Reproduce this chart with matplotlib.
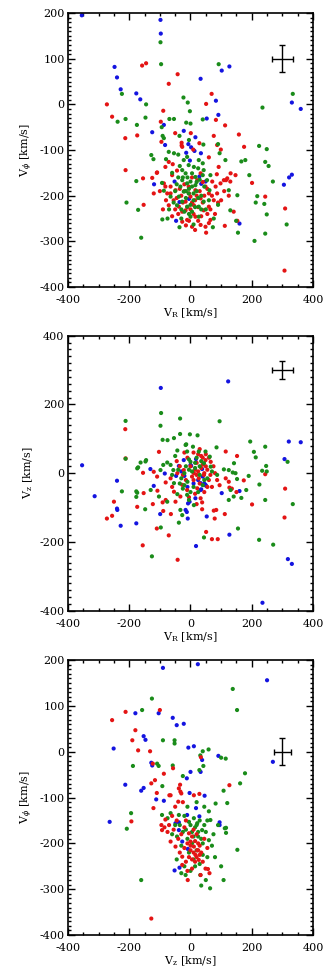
import numpy as np
import matplotlib
matplotlib.use("Agg")
import matplotlib.pyplot as plt
from matplotlib.ticker import MultipleLocator

plt.rcParams['font.family'] = 'DejaVu Serif'
plt.rcParams['mathtext.fontset'] = 'dejavuserif'
plt.rcParams['axes.unicode_minus'] = False

# panel 1: V_R vs V_phi
p1_blue = [(-355, 195), (-98, 185), (-97, 155), (-248, 82), (-240, 59), (-228, 33), (-177, 24), (-164, 11),
           (102, 74), (127, 83), (33, 56), (83, 8), (91, -23), (53, -31), (-87, -45), (-125, -61), (-83, -89),
           (-22, -58), (16, -72), (-7, -87), (2, -94), (-14, -106), (13, -102), (34, -107), (-2, -123),
           (331, 4), (360, -10), (305, -176), (322, -160), (331, -154), (160, -261), (-47, -255), (-119, -175),
           (-36, -214), (-5, -207), (35, -174), (49, -169), (-52, -169), (29, -158)]
p1_red = [(-273, 0), (-256, -27), (-213, -74), (-212, -144), (-158, 85), (-145, 90), (-42, 66), (-71, 45),
          (-89, -14), (-97, -38), (-174, -68), (69, 23), (51, 1), (83, -34), (113, -46), (158, -66), (175, -93),
          (76, -69), (99, -99), (201, -172), (244, -202), (309, -228), (307, -364), (112, -266), (51, -281),
          (153, -255), (-153, -220), (-155, -162), (-120, -195), (-110, -150), (-29, -90), (29, -85), (-50, -63),
          (1, -63), (87, -89), (131, -151), (116, -166), (86, -153),
          (-95, -82), (-29, -84), (-27, -93), (9, -99), (60, -116), (-71, -126), (-58, -131), (-109, -149),
          (-125, -161), (-82, -137), (-44, -145), (-60, -155), (-87, -173), (-82, -180), (-76, -195), (-55, -210),
          (-71, -221), (-38, -224), (-27, -235), (-11, -253), (-27, -257), (16, -246), (33, -264), (65, -253),
          (43, -232), (60, -224), (76, -210), (87, -195), (82, -180), (98, -173), (109, -166), (120, -162),
          (130, -169), (71, -169), (92, -137), (16, -188), (33, -206), (0, -202), (11, -221), (-16, -213),
          (22, -166), (49, -180), (60, -195), (33, -151), (-6, -180), (-49, -188), (-16, -232), (5, -268),
          (49, -268), (141, -235), (147, -155),
          (-5, -195), (20, -200), (40, -215), (-30, -200), (-40, -240), (10, -240), (25, -225), (55, -240),
          (-20, -175), (5, -160), (-65, -180), (70, -200), (-10, -225), (30, -190), (-45, -205), (100, -210),
          (-100, -190), (-90, -230), (60, -260), (80, -240), (-60, -245), (15, -275), (35, -245), (-5, -255),
          (110, -190), (125, -200),
          (-35, -185), (-50, -230), (0, -230), (45, -200), (15, -210), (-20, -190), (65, -230), (-65, -195),
          (25, -255), (-15, -265), (90, -215), (40, -170), (-80, -210), (55, -185), (-25, -215), (5, -215)]
p1_green = [(-98, 136), (-96, 88), (92, 88), (-224, 23), (334, 23), (235, -7), (-23, 15), (-9, 4), (-2, -15),
            (-145, 0), (-147, -29), (-212, -32), (-238, -38), (-175, -45), (-69, -32), (-54, -32), (-94, -50),
            (-91, -69), (-87, -74), (-14, -40), (0, -42), (40, -33), (-36, -69), (-5, -78), (42, -88), (90, -87),
            (95, -107), (166, -125), (179, -122), (224, -91), (249, -98), (244, -126), (255, -135), (269, -169),
            (192, -155), (218, -201), (241, -218), (213, -215), (153, -199), (155, -281), (209, -299), (244, -283),
            (249, -241), (314, -263), (-128, -111), (-121, -120), (-209, -215), (-171, -231), (-161, -292),
            (-177, -168), (-92, -252), (-75, -250), (-36, -269), (10, -263), (73, -269),
            (-71, -104), (-54, -107), (-40, -110), (-22, -122), (-11, -115), (-6, -133), (11, -137), (27, -122),
            (40, -129), (43, -144), (-27, -144), (-16, -151), (5, -151), (16, -159), (-27, -166), (-11, -173),
            (0, -169), (16, -177), (-33, -180), (-22, -191), (-6, -195), (-38, -202), (-27, -213), (-11, -224),
            (5, -235), (27, -224), (43, -213), (-44, -221), (0, -246), (27, -246), (76, -250), (62, -188),
            (54, -166), (65, -155), (-93, -172), (-87, -189), (-65, -202), (114, -122), (125, -188), (130, -232),
            (149, -255),
            (-15, -205), (10, -210), (-5, -185), (20, -190), (35, -200), (-50, -190), (-20, -235), (15, -225),
            (50, -230), (-30, -250), (45, -180), (-60, -150), (5, -180), (-40, -160), (30, -165), (-10, -160),
            (25, -140), (60, -210), (-70, -230), (90, -220), (-80, -120),
            (-30, -230), (-15, -190), (0, -220), (20, -170), (-45, -175), (35, -230), (-55, -215), (10, -195),
            (-25, -160), (40, -155), (-5, -240), (-35, -135), (25, -205)]

# panel 2: V_R vs V_z
p2_blue = [(-354, 23), (-313, -67), (-240, -22), (-240, -103), (-239, -107), (-228, -153), (-177, -146),
           (-97, 248), (123, 267), (-131, 12), (-120, -37), (-99, -119), (-9, -132), (-12, -113), (18, -212),
           (53, -126), (127, -179), (160, -52), (102, -58), (307, 41), (321, 92), (360, 90), (318, -250),
           (331, -264), (235, -377), (-38, 21), (-20, -8), (2, 21), (18, 41), (38, 12), (40, -10), (51, -37),
           (35, -47), (-3, -83), (-47, -8), (-84, -1), (-10, -40), (25, -20), (-30, 5), (10, -30), (45, -30),
           (-8, -88), (-22, 38), (0, 24), (33, -29), (49, -34), (33, -49), (16, -73), (-16, -107)]
p2_red = [(-273, -132), (-256, -124), (-250, -83), (-213, 128), (-212, 43), (-174, -98), (-156, -210),
          (-153, -58), (-123, -90), (-108, -51), (-110, -161), (-91, -85), (-89, -110), (-103, 62), (-71, -181),
          (-42, -252), (-64, -119), (38, -85), (51, -171), (70, -192), (89, -192), (79, -132), (84, -107),
          (112, -119), (115, 63), (152, 50), (174, -21), (201, -91), (244, -3), (309, -45), (307, -129),
          (127, -42),
          (-155, 1), (-120, 4), (-109, -10), (-81, -27), (-65, -15), (-43, 0), (-22, 9), (11, 0), (27, -15),
          (44, -5), (66, 33), (49, 38), (87, -20), (115, -15), (125, -25), (-27, -34), (-11, -49), (22, -44),
          (-54, -54), (-33, -68), (-81, -78), (-49, -83), (33, -73), (38, -105), (76, -109),
          (0, 20), (20, 30), (35, 50), (10, 60), (30, 70), (-10, 45), (40, 25), (55, 10), (60, -20), (70, -40),
          (5, -10), (-15, -20), (15, -60), (-5, -70), (25, 5), (45, -55), (-35, 20), (-60, -40), (80, 0),
          (95, -35), (-20, 60), (50, 55), (60, 45), (-45, 35), (20, -90), (135, -45), (150, -55),
          (15, 10), (30, -30), (50, 20), (65, -5), (40, 45), (25, 55), (10, -20), (-25, -5), (55, -40),
          (75, 20), (20, -5), (45, 0), (35, 15)]
p2_green = [(-212, 152), (-212, 42), (-224, -53), (-177, -53), (-177, -69), (-171, 17), (-145, 38),
            (-148, -105), (-126, -242), (-96, 175), (-98, 138), (-97, -158), (-91, 97), (-75, 96), (-54, 102),
            (-34, 159), (-34, 114), (-2, 113), (23, 110), (-14, 84), (95, 151), (85, 75), (44, -187), (-38, -144),
            (-27, -122), (141, -68), (155, -161), (166, -72), (182, -49), (190, -8), (195, 92), (207, 62),
            (213, 46), (225, -33), (244, 77), (247, 21), (249, 5), (234, 7), (244, -78), (224, -194), (270, -208),
            (317, 33), (334, -90), (138, 2), (152, -17),
            (8, 77), (-163, 31), (-147, 34), (-174, 14), (-98, 9), (-89, 24), (-76, 31), (-65, 24), (-56, 9),
            (-11, 63), (27, 63), (44, 29), (66, 19), (87, -5), (109, 11), (125, 9), (142, 29), (147, 0),
            (131, -49), (125, -78), (-174, -57), (-130, -49), (-103, -68), (-76, -83), (-33, -107), (-11, -63),
            (-5, -78), (11, -93), (-43, -61), (-54, -29), (0, 33), (-43, 66), (49, 63), (63, 48), (-16, 82),
            (-20, 0), (5, 5), (15, 15), (30, -5), (-30, -15), (-5, 40), (20, 45), (-40, 10), (40, -35),
            (10, -40), (-25, -45), (55, -15), (70, 5), (-60, -5), (-10, -25), (35, 35), (25, -55), (-50, 50),
            (-15, 20), (0, -55), (-35, -30), (15, 30), (-5, 10), (30, 20), (-20, -35), (45, -20)]

# panel 3: V_z vs V_phi
p3_blue = [(-90, 183), (24, 191), (250, 156), (-180, 84), (-104, 84), (-58, 74), (-45, 58), (-22, 61),
           (-153, 34), (-147, 26), (-251, 7), (-7, 9), (11, 12), (91, -9), (269, -22), (38, -18), (33, -44),
           (0, -44), (-12, -58), (-213, -72), (-161, -85), (-153, -79), (-128, -24), (-125, -30), (-112, -104),
           (-87, -107), (-3, -90), (46, -96), (-264, -153), (95, -154), (95, -160), (-52, -259), (-36, -253),
           (18, -123), (29, -141), (-38, -154), (-27, -196), (-9, -212), (-11, -138), (-49, -156), (-38, -171)]
p3_red = [(-256, 69), (-212, 87), (-100, 91), (-180, 47), (-190, 25), (-171, 3), (-132, 1), (-123, -26),
          (-87, -48), (-57, -36), (-116, -62), (-128, -69), (-34, -72), (34, -12), (127, -73), (-193, -152),
          (-121, -123), (-69, -95), (-33, -87), (29, -92), (-128, -364), (-9, -280), (33, -269), (57, -256),
          (62, -265),
          (-65, -95), (-38, -80), (-30, -91), (11, -95), (-40, -109), (-82, -148), (-93, -171), (-65, -196),
          (-49, -207), (-27, -229), (-5, -178), (0, -196), (11, -207), (22, -215), (16, -225), (27, -236),
          (-27, -247), (49, -255),
          (-20, -165), (5, -185), (15, -195), (30, -205), (-10, -200), (0, -215), (20, -230), (-40, -190),
          (-55, -170), (-70, -160), (-85, -165), (-60, -140), (-50, -120), (-25, -110), (-15, -150), (10, -170),
          (35, -220), (40, -240), (-15, -240), (5, -255), (25, -200), (-35, -220), (45, -190), (55, -210),
          (-5, -230), (20, -180), (-75, -175), (-95, -160), (-110, -90),
          (10, -220), (25, -215), (15, -240), (0, -205), (30, -225), (-20, -210), (5, -235), (-30, -180),
          (-45, -150), (-10, -260)]
p3_green = [(-126, 116), (-158, 91), (138, 137), (152, 91), (-90, 25), (-52, 25), (-52, 18), (-188, -31),
            (-109, -26), (-104, -31), (-92, -75), (-58, -30), (-25, -53), (40, 1), (59, 5), (32, -8), (42, -31),
            (29, -40), (100, -13), (115, -15), (162, -69), (178, -47), (108, -85), (120, -112), (-194, -134),
            (-208, -168), (-161, -280), (35, -292), (64, -298), (108, -280), (100, -250), (153, -214),
            (116, -166), (116, -177),
            (-65, -134), (-38, -138), (-5, -153), (11, -145), (22, -156), (38, -171), (60, -193), (65, -149),
            (82, -113), (112, -167), (-93, -138), (-44, -185), (-16, -269), (32, -269),
            (-20, -140), (0, -160), (5, -175), (15, -165), (25, -185), (-10, -190), (-25, -175), (30, -150),
            (45, -160), (50, -175), (40, -200), (20, -215), (-30, -205), (-5, -220), (10, -235), (-20, -250),
            (30, -245), (55, -230), (70, -205), (-60, -180), (-75, -145), (-50, -160), (60, -130), (45, -120),
            (20, -110), (-10, -120), (75, -180), (90, -160), (-45, -235), (0, -260), (80, -230), (-30, -265),
            (50, -280),
            (10, -185), (20, -160), (35, -190), (5, -200), (-15, -170), (40, -225), (15, -250), (-35, -160),
            (55, -150), (25, -175)]

# typical errors (km/s) shown as the cross in each panel
err_vr = 34
err_vphi = 29
err_vz = 27

red = '#e41414'
green = '#1a8c1a'
blue = '#1414e0'

fig = plt.figure(figsize=(3.26, 9.73), dpi=100)

panels = [
    dict(rect=[0.2086, 0.705, 0.7515, 0.2816], data=(p1_blue, p1_red, p1_green), ylim=(-400, 200),
         ymaj=100, ymin=10, xlab=r'V$_{\rm R}$ [km/s]', ylab=r'V$_{\phi}$ [km/s]',
         cross=(300, 100, err_vr, err_vphi)),
    dict(rect=[0.2086, 0.3724, 0.7515, 0.2826], data=(p2_blue, p2_red, p2_green), ylim=(-400, 400),
         ymaj=200, ymin=20, xlab=r'V$_{\rm R}$ [km/s]', ylab=r'V$_{\rm z}$ [km/s]',
         cross=(300, 300, err_vr, err_vz)),
    dict(rect=[0.2086, 0.039, 0.7515, 0.2826], data=(p3_blue, p3_green, p3_red), ylim=(-400, 200),
         ymaj=100, ymin=10, xlab=r'V$_{\rm z}$ [km/s]', ylab=r'V$_{\phi}$ [km/s]',
         cross=(300, 0, err_vz, err_vphi)),
]
colors = [(blue, red, green), (blue, red, green), (blue, green, red)]

for p, cols in zip(panels, colors):
    ax = fig.add_axes(p['rect'])
    for pts, c in zip(p['data'], cols):
        arr = np.array(pts)
        ax.scatter(arr[:, 0], arr[:, 1], s=9, color=c, edgecolors='none', zorder=2)
    cx, cy, ex, ey = p['cross']
    ax.errorbar(cx, cy, xerr=ex, yerr=ey, color='black', lw=1.0, capsize=2, capthick=1.0, zorder=3)
    ax.set_xlim(-400, 400)
    ax.set_ylim(*p['ylim'])
    ax.xaxis.set_major_locator(MultipleLocator(200))
    ax.xaxis.set_minor_locator(MultipleLocator(50))
    ax.yaxis.set_major_locator(MultipleLocator(p['ymaj']))
    ax.yaxis.set_minor_locator(MultipleLocator(p['ymin']))
    ax.tick_params(which='both', direction='in', top=True, right=True, labelsize=8, width=1.0)
    ax.tick_params(which='major', length=5)
    ax.tick_params(which='minor', length=2.5)
    ax.tick_params(axis='x', which='major', pad=6)
    ax.tick_params(axis='y', which='major', pad=2.5)
    for s in ax.spines.values():
        s.set_linewidth(1.2)
    ax.set_xlabel(p['xlab'], fontsize=8, labelpad=1)
    ax.set_ylabel(p['ylab'], fontsize=8, labelpad=3)

fig.savefig('out.png', dpi=100)
